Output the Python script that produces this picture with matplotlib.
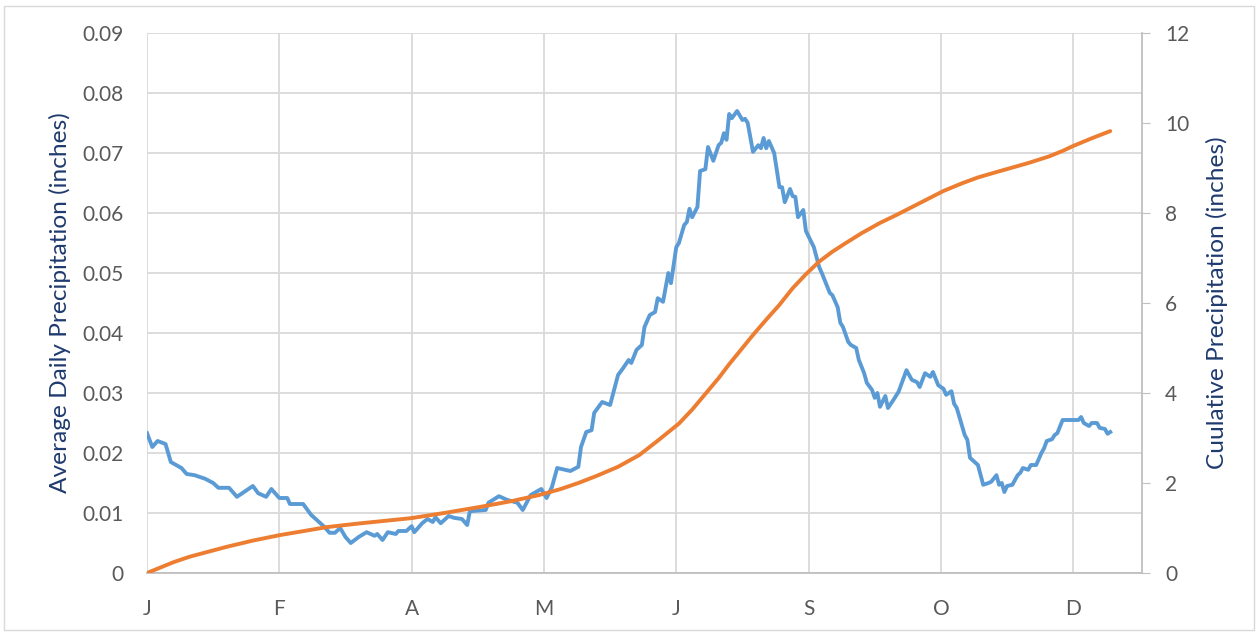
import matplotlib.pyplot as plt
from matplotlib.patches import Rectangle

plt.rcParams['font.family'] = ['Lato', 'DejaVu Sans']

# Average daily precipitation, day of year -> inches
daily_days = [0, 2, 4, 7, 9, 13, 15, 18, 22, 25, 27, 31, 34, 36, 40, 42, 45, 47, 50, 53,
              54, 59, 62, 63, 67, 69, 71, 73, 75, 77, 80, 83, 86, 87, 89, 91, 94, 95, 98, 100,
              101, 104, 106, 108, 109, 111, 114, 116, 119, 121, 122, 128, 129, 133, 136, 140, 142, 145, 149, 151,
              153, 155, 160, 163, 164, 166, 168, 169, 172, 175, 178, 180, 182, 183, 185, 187, 188, 190, 192, 193,
              195, 197, 198, 200, 201, 203, 204, 205, 206, 208, 209, 211, 212, 214, 216, 217, 218, 219, 220, 221,
              223, 225, 226, 227, 229, 231, 232, 233, 234, 235, 237, 239, 240, 241, 243, 244, 245, 246, 248, 249,
              252, 254, 255, 258, 259, 261, 262, 263, 265, 266, 268, 269, 271, 272, 274, 275, 276, 277, 279, 280,
              282, 284, 287, 289, 291, 292, 294, 296, 297, 299, 301, 302, 304, 305, 306, 309, 310, 311, 314, 316,
              318, 319, 321, 322, 323, 324, 325, 327, 329, 330, 331, 333, 334, 336, 338, 339, 340, 342, 343, 344,
              346, 352, 353, 354, 356, 357, 359, 360, 362, 363, 364]
daily_vals = [0.0233, 0.021, 0.022, 0.0215, 0.0185, 0.0175, 0.0165, 0.0163, 0.0157, 0.015, 0.0142, 0.0142, 0.0127, 0.0133, 0.0145, 0.0133, 0.0127, 0.014, 0.0125, 0.0125,
              0.0115, 0.0115, 0.0097, 0.0093, 0.0077, 0.0067, 0.0067, 0.0075, 0.006, 0.005, 0.006, 0.0068, 0.0062, 0.0065, 0.0055, 0.0068, 0.0065, 0.007, 0.007, 0.0078,
              0.0068, 0.0083, 0.009, 0.0085, 0.0093, 0.0083, 0.0095, 0.0092, 0.009, 0.008, 0.0103, 0.0105, 0.0117, 0.0128, 0.0122, 0.0117, 0.0105, 0.013, 0.014, 0.0125,
              0.0143, 0.0175, 0.017, 0.0177, 0.021, 0.0235, 0.0238, 0.0267, 0.0285, 0.028, 0.033, 0.0342, 0.0355, 0.035, 0.0372, 0.038, 0.041, 0.043, 0.0435, 0.0458,
              0.0452, 0.05, 0.0483, 0.0543, 0.055, 0.058, 0.0585, 0.0607, 0.0593, 0.061, 0.067, 0.0673, 0.071, 0.0687, 0.0713, 0.0717, 0.0733, 0.0722, 0.0765, 0.0758,
              0.077, 0.0755, 0.0757, 0.075, 0.0702, 0.0713, 0.0708, 0.0725, 0.0708, 0.072, 0.07, 0.0643, 0.0643, 0.0618, 0.064, 0.0628, 0.0627, 0.0593, 0.0605, 0.057,
              0.0543, 0.051, 0.05, 0.0467, 0.0463, 0.0443, 0.0417, 0.041, 0.0385, 0.038, 0.0375, 0.0355, 0.0333, 0.0317, 0.0305, 0.0292, 0.03, 0.0277, 0.0295, 0.0275,
              0.0288, 0.0302, 0.0338, 0.0322, 0.0318, 0.031, 0.0333, 0.0327, 0.0335, 0.0313, 0.0307, 0.0297, 0.0303, 0.0282, 0.0275, 0.023, 0.0222, 0.0192, 0.018, 0.0147,
              0.015, 0.0152, 0.0163, 0.0147, 0.015, 0.0135, 0.0145, 0.0147, 0.0163, 0.0167, 0.0175, 0.0172, 0.018, 0.018, 0.02, 0.0208, 0.022, 0.0223, 0.023, 0.0233,
              0.0255, 0.0255, 0.026, 0.025, 0.0245, 0.025, 0.025, 0.0242, 0.024, 0.0232, 0.0235]

# Cumulative precipitation (inches)
cum_days = [0, 5, 10, 16, 23, 30, 40, 50, 60, 68, 80, 90, 100, 113, 126, 138, 148, 156, 163, 170,
            178, 186, 193, 201, 206, 211, 216, 220, 225, 229, 234, 239, 244, 249, 254, 259, 264, 270, 277, 283,
            289, 295, 301, 308, 314, 321, 327, 333, 341, 346, 350, 357, 364]
cum_vals = [0, 0.12, 0.24, 0.36, 0.47, 0.58, 0.72, 0.84, 0.94, 1.02, 1.10, 1.16, 1.22, 1.34, 1.47, 1.60, 1.73, 1.86, 2.0, 2.16,
            2.36, 2.62, 2.94, 3.32, 3.63, 3.98, 4.33, 4.64, 5.0, 5.29, 5.63, 5.96, 6.33, 6.64, 6.92, 7.14, 7.33, 7.55, 7.78, 7.95,
            8.13, 8.31, 8.49, 8.66, 8.79, 8.91, 9.01, 9.11, 9.26, 9.38, 9.49, 9.66, 9.82]

tick_days = [0, 50, 100, 150, 200, 250, 300, 350]
tick_labels = ['J', 'F', 'A', 'M', 'J', 'S', 'O', 'D']

label_col = '#595959'
title_col = '#1F3A6E'
grid_col = '#D9D9D9'

fig = plt.figure(figsize=(12.6, 6.34), dpi=100)
ax = fig.add_axes([147 / 1260, 1 - 573 / 634, (1142 - 147) / 1260, (573 - 33) / 634])
ax2 = ax.twinx()

ax.plot(daily_days, daily_vals, color='#5B9BD5', lw=2.8, solid_joinstyle='round', zorder=3)
ax2.plot(cum_days, cum_vals, color='#ED7D31', lw=2.8, solid_capstyle='round', solid_joinstyle='round', zorder=3)

ax.set_xlim(0, 376)
ax.set_ylim(0, 0.09)
ax2.set_ylim(0, 12)
ax.set_yticks([i / 100 for i in range(10)])
ax.set_yticklabels(['0'] + ['%.2f' % (i / 100) for i in range(1, 10)])
ax2.set_yticks(range(0, 13, 2))
ax.set_xticks(tick_days)
ax.set_xticklabels(tick_labels)

ax.grid(True, color=grid_col, lw=1.3)
ax.set_axisbelow(True)
for a in (ax, ax2):
    for s in a.spines.values():
        s.set_visible(False)
ax.spines['bottom'].set_visible(True)
ax.spines['bottom'].set_color('#BFBFBF')
ax.spines['bottom'].set_linewidth(1.3)
ax2.spines['right'].set_visible(True)
ax2.spines['right'].set_color('#BFBFBF')
ax2.spines['right'].set_linewidth(1.3)

ax.tick_params(axis='y', length=0, pad=17, labelsize=15, labelcolor=label_col)
ax.tick_params(axis='x', length=0, pad=19, labelsize=15, labelcolor=label_col)
ax2.tick_params(axis='y', length=5.5, color='#BFBFBF', pad=11, labelsize=15, labelcolor=label_col)

ax.set_ylabel('Average Daily Precipitation (inches)', fontsize=16, color=title_col)
ax2.set_ylabel('Cuulative Precipitation (inches)', fontsize=16, color=title_col)

# size the axis titles to the lengths they have in the reference (pixels)
fig.canvas.draw()
r = fig.canvas.get_renderer()
for lab, target in ((ax.yaxis.label, 381), (ax2.yaxis.label, 333)):
    h = lab.get_window_extent(r).height
    lab.set_fontsize(lab.get_fontsize() * target / h)
    lab.set_ha('center')
    lab.set_va('center')
ax.yaxis.set_label_coords((60 - 147) / 995, 0.5)
ax2.yaxis.set_label_coords((1217 - 147) / 995, 0.5)

fig.patches.append(Rectangle((4 / 1260, 4 / 634), 1250 / 1260, 624 / 634, transform=fig.transFigure,
                             fill=False, edgecolor='#D9D9D9', lw=1))

fig.savefig('out.png', dpi=100)
